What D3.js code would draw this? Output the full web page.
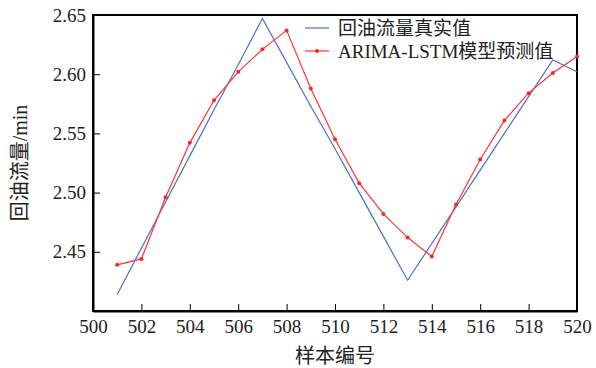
<!DOCTYPE html>
<html>
<head>
<meta charset="utf-8">
<script src="https://cdn.jsdelivr.net/npm/d3@7"></script>
<style>
  body { margin: 0; background: #fff; }
  text { font-family: "Liberation Serif", "Noto Sans CJK SC", serif; fill: #222; }
</style>
</head>
<body>
<svg class="chart"></svg>
<script>
// sample numbers on the x axis
var samples = [501, 502, 503, 504, 505, 506, 507, 508, 509, 510, 511, 512, 513, 514, 515, 516, 517, 518, 519, 520];
// measured return-oil flow (blue)
var trueValues = [2.414, 2.453, 2.492, 2.531, 2.570, 2.608, 2.647, 2.610, 2.573, 2.537, 2.500, 2.463, 2.426, 2.457, 2.488, 2.519, 2.550, 2.581, 2.612, 2.602];
// ARIMA-LSTM prediction (red)
var predValues = [2.439, 2.444, 2.496, 2.542, 2.578, 2.602, 2.621, 2.637, 2.588, 2.545, 2.508, 2.482, 2.462, 2.446, 2.490, 2.528, 2.561, 2.584, 2.601, 2.615];
var xTicks = [500, 502, 504, 506, 508, 510, 512, 514, 516, 518, 520];
var yTicks = [2.45, 2.50, 2.55, 2.60, 2.65];
var legendLabels = ["回油流量真实值", "ARIMA-LSTM模型预测值"];

var width = 596, height = 368;
var margin = { left: 93, right: 19, top: 15, bottom: 57 };
var serif = "'Liberation Serif', 'Noto Sans CJK SC', serif";

var svg = d3.select("svg.chart").attr("width", width).attr("height", height);

var x = d3.scaleLinear().domain([500, 520]).range([margin.left, width - margin.right]);
var y = d3.scaleLinear().domain([2.40, 2.65]).range([height - margin.bottom, margin.top]);

// frame around the plot
svg.append("rect")
    .attr("x", x(500)).attr("y", y(2.65))
    .attr("width", x(520) - x(500)).attr("height", y(2.40) - y(2.65))
    .attr("fill", "none").attr("stroke", "#000").attr("stroke-width", 2);

var xAxis = svg.append("g")
    .attr("transform", "translate(0," + y(2.40) + ")")
    .call(d3.axisBottom(x).tickValues(xTicks).tickSizeInner(-7).tickSizeOuter(0).tickPadding(8).tickFormat(d3.format("d")));
xAxis.attr("font-family", serif);
xAxis.select(".domain").attr("stroke-width", 2);
xAxis.selectAll("text").attr("font-size", 19).attr("fill", "#222").attr("dy", "0.75em");

var yAxis = svg.append("g")
    .attr("transform", "translate(" + x(500) + ",0)")
    .call(d3.axisLeft(y).tickValues(yTicks).tickSizeInner(-7).tickSizeOuter(0).tickPadding(7).tickFormat(d3.format(".2f")));
yAxis.attr("font-family", serif);
yAxis.select(".domain").attr("stroke-width", 2);
yAxis.selectAll("text").attr("font-size", 19).attr("fill", "#222");

// axis titles
svg.append("text")
    .attr("x", (x(500) + x(520)) / 2).attr("y", 363)
    .attr("text-anchor", "middle").attr("font-size", 20)
    .style("font-family", "'Noto Sans CJK SC'")
    .text("样本编号");

svg.append("text")
    .attr("transform", "translate(27," + ((y(2.40) + y(2.65)) / 2) + ") rotate(-90)")
    .attr("text-anchor", "middle").attr("font-size", 20)
    .text("回油流量/min");

var line = d3.line().x(function (d) { return x(d[0]); }).y(function (d) { return y(d[1]); });

svg.append("path")
    .datum(d3.zip(samples, trueValues))
    .attr("d", line).attr("fill", "none").attr("stroke", "#4a6fc9").attr("stroke-width", 1.2);

var predData = d3.zip(samples, predValues);
svg.append("path")
    .datum(predData)
    .attr("d", line).attr("fill", "none").attr("stroke", "#ff3333").attr("stroke-width", 1.2);

svg.selectAll("circle.pred")
    .data(predData)
    .enter().append("circle")
    .attr("class", "pred")
    .attr("cx", function (d) { return x(d[0]); })
    .attr("cy", function (d) { return y(d[1]); })
    .attr("r", 2).attr("fill", "#ff2222");

// legend
var legend = svg.append("g").attr("transform", "translate(305,28)");
legend.append("line").attr("x1", 0).attr("x2", 24).attr("y1", 0).attr("y2", 0)
    .attr("stroke", "#4a6fc9").attr("stroke-width", 1.2);
legend.append("line").attr("x1", 0).attr("x2", 24).attr("y1", 23).attr("y2", 23)
    .attr("stroke", "#ff3333").attr("stroke-width", 1.2);
legend.append("circle").attr("cx", 12).attr("cy", 23).attr("r", 2).attr("fill", "#ff2222");
legend.selectAll("text.lg")
    .data(legendLabels)
    .enter().append("text")
    .attr("class", "lg")
    .attr("x", 33).attr("y", function (d, i) { return i * 23 + 7; })
    .attr("font-size", 19)
    .text(function (d) { return d; });
</script>
</body>
</html>
